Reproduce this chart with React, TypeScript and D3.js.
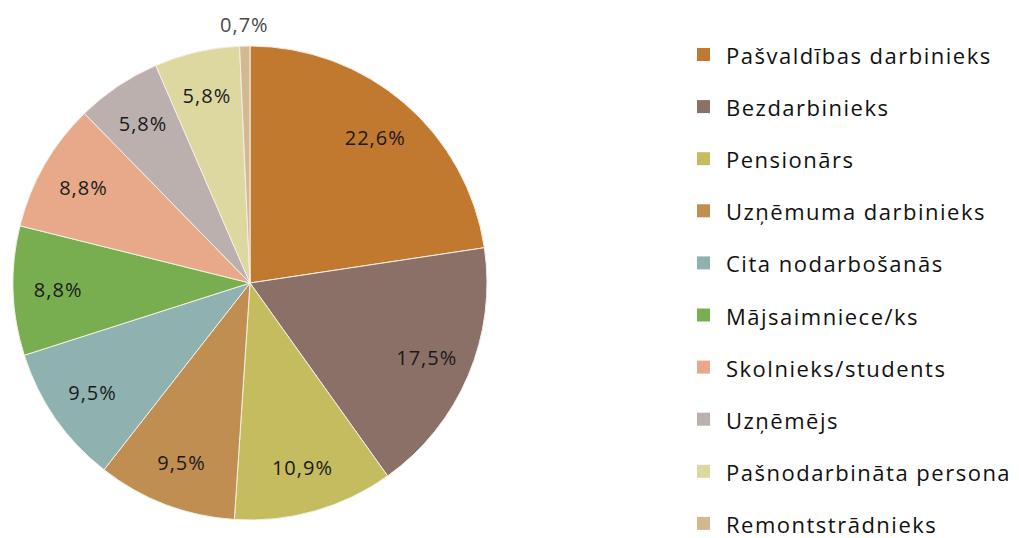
import React from "react";
import { pie, arc, scaleOrdinal, PieArcDatum } from "d3";

const categories = [
  "Pašvaldības darbinieks",
  "Bezdarbinieks",
  "Pensionārs",
  "Uzņēmuma darbinieks",
  "Cita nodarbošanās",
  "Mājsaimniece/ks",
  "Skolnieks/students",
  "Uzņēmējs",
  "Pašnodarbināta persona",
  "Remontstrādnieks",
];
const values = [22.6, 17.5, 10.9, 9.5, 9.5, 8.8, 8.8, 5.8, 5.8, 0.7];
const labels = ["22,6%", "17,5%", "10,9%", "9,5%", "9,5%", "8,8%", "8,8%", "5,8%", "5,8%", "0,7%"];
const palette = [
  "#c0792f",
  "#8b7068",
  "#c4bc5e",
  "#c08e50",
  "#8fb2b1",
  "#78ae50",
  "#e7a98a",
  "#bbb0ae",
  "#ddd8a0",
  "#d4b890",
];

type Row = { name: string; value: number; label: string };
const rows: Row[] = categories.map((name, i) => ({ name, value: values[i], label: labels[i] }));

const W = 1019;
const H = 538;
const cx = 250;
const cy = 283;
const R = 237;

export default function App() {
  const color = scaleOrdinal<string, string>().domain(categories).range(palette);
  const arcs = pie<Row>().sort(null).value((d) => d.value)(rows);
  const arcGen = arc<PieArcDatum<Row>>().innerRadius(0).outerRadius(R);
  const labelArc = arc<PieArcDatum<Row>>().innerRadius(R * 0.81).outerRadius(R * 0.81);
  const outerLabelArc = arc<PieArcDatum<Row>>().innerRadius(R * 1.09).outerRadius(R * 1.09);

  return (
    <svg width={W} height={H} style={{ position: "absolute", left: 0, top: 0 }}>
      <rect width={W} height={H} fill="#fff" />
      <g transform={`translate(${cx},${cy})`}>
        {arcs.map((a) => (
          <path key={a.data.name} d={arcGen(a) || ""} fill={color(a.data.name)} stroke="#f3efe6" strokeWidth={1} />
        ))}
        {arcs.map((a) => {
          const small = a.data.value < 2;
          const [x, y] = small ? outerLabelArc.centroid(a) : labelArc.centroid(a);
          return (
            <text
              key={"l" + a.data.name}
              x={x}
              y={y}
              textAnchor="middle"
              dominantBaseline="central"
              fontFamily="'Open Sans', sans-serif"
              fontSize={20}
              letterSpacing={1}
              fill={small ? "#4a4a4a" : "#1a1a1a"}
            >
              {a.data.label}
            </text>
          );
        })}
      </g>
      <g transform="translate(697,55)">
        {categories.map((c, i) => (
          <g key={c} transform={`translate(0,${i * 52.1})`}>
            <rect x={0} y={-7} width={13} height={13} fill={color(c)} />
            <text
              x={29}
              y={0}
              dominantBaseline="central"
              fontFamily="'Open Sans', sans-serif"
              fontSize={22}
              letterSpacing={1.5}
              fill="#111"
            >
              {c}
            </text>
          </g>
        ))}
      </g>
    </svg>
  );
}
